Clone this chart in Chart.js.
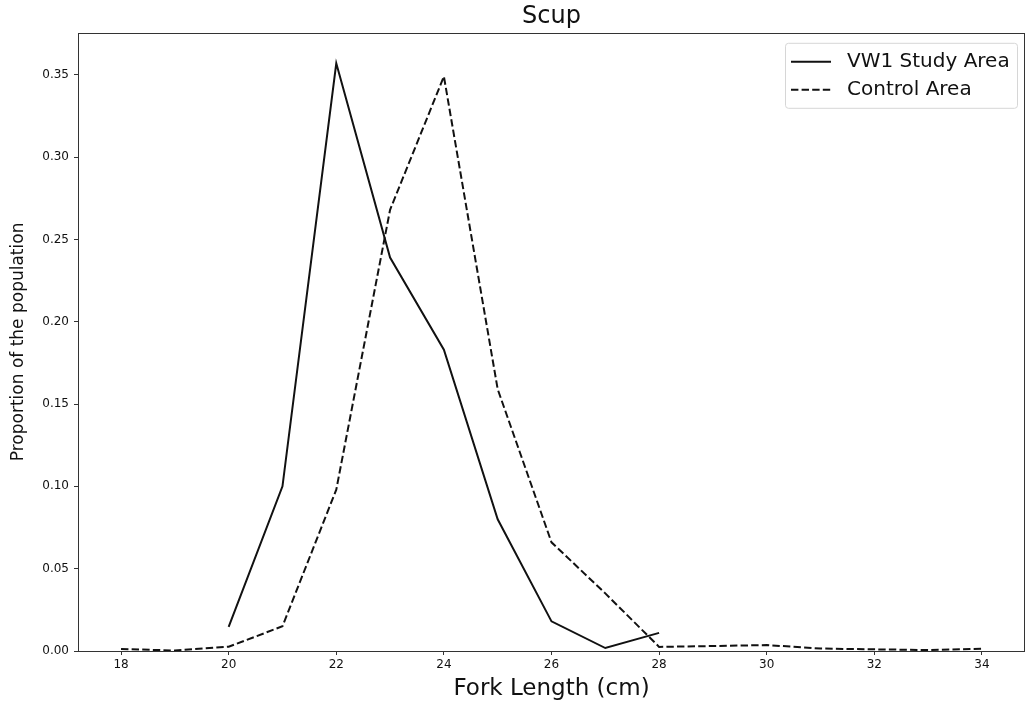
<!DOCTYPE html>
<html>
<head>
<meta charset="utf-8">
<script src="https://cdn.jsdelivr.net/npm/chart.js@4.4.1/dist/chart.umd.min.js"></script>
<style>
    html, body { margin: 0; padding: 0; background: #fff; }
    #wrap { width: 1026px; height: 708px; }
</style>
</head>
<body>
<div id="wrap"><canvas id="scupChart"></canvas></div>
<script>
const studyLengths = [20, 21, 22, 23, 24, 25, 26, 27, 28];
const studyValues = [0.0146, 0.100, 0.357, 0.239, 0.183, 0.080, 0.018, 0.0018, 0.011];

const controlLengths = [18, 19, 20, 21, 22, 23, 24, 25, 26, 27, 28, 29, 30, 31, 32, 33, 34];
const controlValues = [0.0012, 0.0003, 0.0026, 0.015, 0.098, 0.268, 0.349, 0.159, 0.066, 0.035, 0.0025, 0.003, 0.0036, 0.0015, 0.001, 0.0006, 0.0014];

const xTicks = [18, 20, 22, 24, 26, 28, 30, 32, 34];
const yTicks = [0, 0.05, 0.10, 0.15, 0.20, 0.25, 0.30, 0.35];

const FONT = "'DejaVu Sans', sans-serif";
const INK = '#111';
const DASH = [7.4, 3.2];

const framePlugin = {
    id: 'frame',
    afterDatasetsDraw(chart) {
        const { ctx, chartArea: a } = chart;
        ctx.save();
        ctx.strokeStyle = '#333';
        ctx.lineWidth = 1;
        ctx.strokeRect(Math.round(a.left) + 0.5, Math.round(a.top) + 0.5,
            Math.round(a.right - a.left) - 1, Math.round(a.bottom - a.top));
        ctx.restore();
    }
};

// legend drawn inside the plot, top-right, like matplotlib's loc='best'
const insideLegend = {
    id: 'insideLegend',
    afterDraw(chart) {
        const { ctx, chartArea: a } = chart;
        const boxW = 232, boxH = 65;
        const x = a.right - 8 - boxW, y = a.top + 10;
        ctx.save();
        ctx.fillStyle = 'rgba(255,255,255,0.8)';
        ctx.strokeStyle = '#d6d6d6';
        ctx.lineWidth = 1;
        ctx.beginPath();
        ctx.roundRect(x + 0.5, y + 0.5, boxW, boxH, 3);
        ctx.fill();
        ctx.stroke();

        ctx.font = '20px ' + FONT;
        ctx.textBaseline = 'middle';
        chart.data.datasets.forEach((ds, i) => {
            const rowY = y + 19 + i * 28;
            ctx.strokeStyle = INK;
            ctx.lineWidth = 2;
            ctx.setLineDash(ds.borderDash || []);
            ctx.beginPath();
            ctx.moveTo(x + 6, rowY);
            ctx.lineTo(x + 46, rowY);
            ctx.stroke();
            ctx.setLineDash([]);
            ctx.fillStyle = INK;
            ctx.fillText(ds.label, x + 62, rowY);
        });
        ctx.restore();
    }
};

const ctx = document.getElementById('scupChart').getContext('2d');
new Chart(ctx, {
    type: 'line',
    data: {
        datasets: [
            {
                label: 'VW1 Study Area',
                data: studyLengths.map((v, i) => ({ x: v, y: studyValues[i] })),
                borderColor: INK,
                borderWidth: 2,
                pointRadius: 0,
                tension: 0,
                fill: false
            },
            {
                label: 'Control Area',
                data: controlLengths.map((v, i) => ({ x: v, y: controlValues[i] })),
                borderColor: INK,
                borderWidth: 2,
                borderDash: DASH,
                pointRadius: 0,
                tension: 0,
                fill: false
            }
        ]
    },
    options: {
        responsive: true,
        maintainAspectRatio: false,
        animation: false,
        layout: { padding: { left: 0, right: 1, top: 0, bottom: 0 } },
        plugins: {
            legend: { display: false },
            tooltip: { enabled: false },
            title: {
                display: true,
                fullSize: false,
                text: 'Scup',
                color: INK,
                font: { family: FONT, size: 24, weight: 'normal' },
                padding: { top: 2, bottom: 2 }
            }
        },
        scales: {
            x: {
                type: 'linear',
                min: 17.2,
                max: 34.8,
                afterBuildTicks: axis => { axis.ticks = xTicks.map(v => ({ value: v })); },
                afterFit: scale => { scale.height = 57; },
                grid: { display: true, drawOnChartArea: false, tickLength: 4, color: '#333' },
                border: { display: false },
                ticks: {
                    color: INK,
                    padding: 3,
                    maxRotation: 0,
                    font: { family: FONT, size: 12 },
                    callback: v => String(v)
                },
                title: {
                    display: true,
                    text: 'Fork Length (cm)',
                    color: INK,
                    font: { family: FONT, size: 23 },
                    padding: { top: 0, bottom: 5 }
                }
            },
            y: {
                min: 0,
                max: 0.3755,
                afterBuildTicks: axis => { axis.ticks = yTicks.map(v => ({ value: v })); },
                afterFit: scale => { scale.width = 78; },
                grid: { display: true, drawOnChartArea: false, tickLength: 4, color: '#333' },
                border: { display: false },
                ticks: {
                    color: INK,
                    padding: 5,
                    font: { family: FONT, size: 12 },
                    callback: v => v.toFixed(2)
                },
                title: {
                    display: true,
                    text: 'Proportion of the population',
                    color: INK,
                    font: { family: FONT, size: 17 },
                    padding: { top: 8, bottom: 0 }
                }
            }
        }
    },
    plugins: [framePlugin, insideLegend]
});
</script>
</body>
</html>
